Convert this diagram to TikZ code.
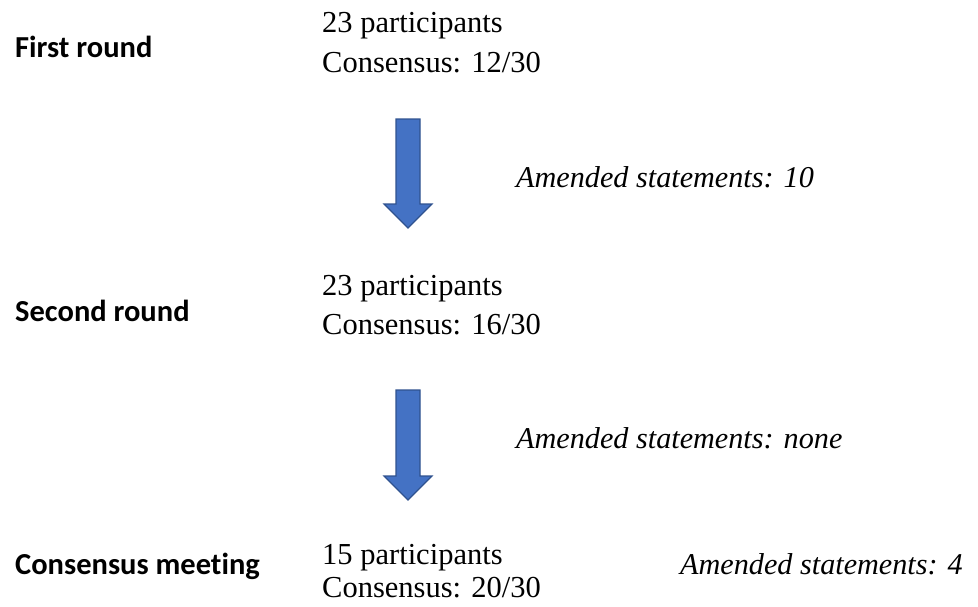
\documentclass[tikz,border=0pt]{standalone}
\usepackage{fontspec}
\setmainfont{Liberation Serif}
\newfontfamily\labelfont[Ligatures=NoCommon]{Carlito}
\definecolor{arrowfill}{HTML}{4472C4}
\definecolor{arrowline}{HTML}{2F528F}
\begin{document}
\begin{tikzpicture}[x=1pt,y=-1pt,
  stage/.style={anchor=base west,inner sep=0pt,font=\labelfont\bfseries\fontsize{30.5}{36}\selectfont},
  data/.style={anchor=base west,inner sep=0pt,font=\fontsize{30.5}{36}\selectfont},
  amend/.style={anchor=base west,inner sep=0pt,font=\itshape\fontsize{30.2}{36}\selectfont},
  bigarrow/.style={fill=arrowfill,draw=arrowline,line width=1.2pt,line join=miter}]
\useasboundingbox (0,0) rectangle (978,606);
\node[stage] (s1) at (15,57) {First round};
\node[data] (d1a) at (322,32) {23 participants};
\node[data] (d1b) at (322,72) {Consensus: 12/30};
\node[amend] (a1) at (516,187) {Amended statements: 10};
\node[stage] (s2) at (15,321) {Second round};
\node[data] (d2a) at (322,295) {23 participants};
\node[data] (d2b) at (322,334) {Consensus: 16/30};
\node[amend] (a2) at (516,448) {Amended statements: none};
\node[stage] (s3) at (15,574) {Consensus meeting};
\node[data] (d3a) at (322,564) {15 participants};
\node[data] (d3b) at (322,597) {Consensus: 20/30};
\node[amend] (a3) at (680,574) {Amended statements: 4};
\draw[bigarrow] (396,119) -- (420,119) -- (420,204) -- (432,204) -- (408,228) -- (384,204) -- (396,204) -- cycle;
\draw[bigarrow] (396,390) -- (420,390) -- (420,476) -- (432,476) -- (408,500) -- (384,476) -- (396,476) -- cycle;
\end{tikzpicture}
\end{document}
